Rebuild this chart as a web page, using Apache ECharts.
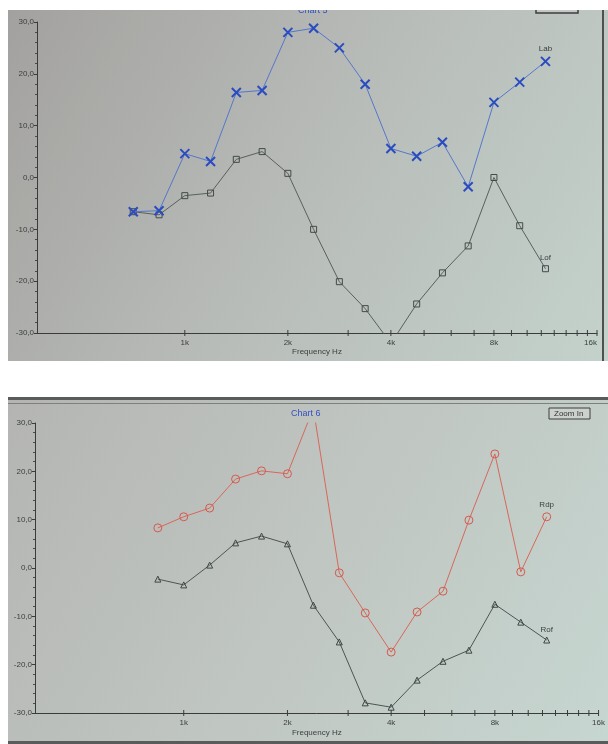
<!DOCTYPE html>
<html>
<head>
<meta charset="utf-8">
<script src="https://cdn.jsdelivr.net/npm/echarts/dist/echarts.min.js"></script>
<style>
html,body{margin:0;padding:0;background:#fff;}
#chart{width:608px;height:744px;}
</style>
</head>
<body>
<div id="chart"></div>
<script>
// ---- data ----
const freqTopHz = [707, 841, 1000, 1189, 1414, 1682, 2000, 2378, 2828, 3364, 4000, 4757, 5657, 6727, 8000, 9514, 11314];
const lab = [-6.6, -6.4, 4.6, 3.1, 16.4, 16.8, 28.0, 28.8, 25.0, 18.0, 5.6, 4.1, 6.8, -1.8, 14.5, 18.4, 22.4];
const lof = [-6.6, -7.2, -3.5, -3.0, 3.5, 5.0, 0.8, -10.0, -20.1, -25.3, -32.0, -24.4, -18.4, -13.2, 0.0, -9.3, -17.6];

const freqBottomHz = [841, 1000, 1189, 1414, 1682, 2000, 2378, 2828, 3364, 4000, 4757, 5657, 6727, 8000, 9514, 11314];
const rdp = [8.3, 10.6, 12.4, 18.4, 20.1, 19.5, 33.0, -1.0, -9.3, -17.4, -9.1, -4.8, 9.9, 23.6, -0.8, 10.6];
const rof = [-2.3, -3.5, 0.6, 5.2, 6.6, 5.0, -7.7, -15.3, -27.9, -28.8, -23.2, -19.3, -17.0, -7.5, -11.2, -14.9];

const xTickKHz = [1, 2, 3, 4, 5, 6, 7, 8, 9, 10, 11, 12, 13, 14, 15, 16];
const yMin = -30, yMax = 30, yStep = 10;
const xMinKHz = 0.37, xMaxKHz = 16;

// ---- helpers ----
const FONT = 'Liberation Sans, Arial, sans-serif';
function pts(freqs, vals, name) {
  return vals.map((v, i) => {
    const p = { value: [freqs[i] / 1000, v] };
    if (i === vals.length - 1) {
      p.label = { show: true, position: 'top', formatter: name, color: '#3a3f3e', fontSize: 8, fontFamily: FONT, distance: 3 };
    }
    return p;
  });
}
function xAxisFor(gi) {
  return {
    type: 'log', logBase: 2, gridIndex: gi, min: xMinKHz, max: xMaxKHz,
    name: 'Frequency Hz', nameLocation: 'middle', nameGap: gi === 0 ? 14 : 16,
    nameTextStyle: { color: '#3a3f3e', fontSize: 8, fontFamily: FONT },
    axisLine: { show: true, onZero: false, lineStyle: { color: '#3a3c3b', width: 1 } },
    axisTick: { show: false },
    splitLine: { show: false },
    axisLabel: {
      color: '#3a3f3e', fontSize: 8, fontFamily: FONT, margin: 6,
      showMinLabel: false,
      alignMaxLabel: gi === 0 ? 'right' : 'center',
      formatter: v => (v >= 0.99 ? Math.round(v) + 'k' : '')
    }
  };
}
function yAxisFor(gi) {
  return {
    type: 'value', gridIndex: gi, min: yMin, max: yMax, interval: yStep,
    axisLine: { show: true, onZero: false, lineStyle: { color: '#3a3c3b', width: 1 } },
    axisTick: { show: true, length: 3, lineStyle: { color: '#3a3c3b' } },
    minorTick: { show: true, splitNumber: 5, length: 2, lineStyle: { color: '#4a4c4b' } },
    splitLine: { show: false },
    axisLabel: {
      color: '#3a3f3e', fontSize: 8, fontFamily: FONT, margin: 3,
      formatter: v => v.toFixed(1).replace('.', ',')
    }
  };
}
function tickSeries(gi) {
  return {
    type: 'custom', xAxisIndex: gi, yAxisIndex: gi, silent: true, z: 5,
    data: xTickKHz.map(f => [f, yMin]),
    renderItem: function (params, api) {
      const p = api.coord([api.value(0), api.value(1)]);
      return { type: 'line', shape: { x1: p[0], y1: p[1] - 3, x2: p[0], y2: p[1] + 3 },
               style: { stroke: '#3a3c3b', lineWidth: 1 } };
    }
  };
}

const xPath = 'path://M0,0L10,10M10,0L0,10';

const option = {
  animation: false,
  textStyle: { fontFamily: FONT },
  graphic: [
    { type: 'rect', z: -10, shape: { x: 8, y: 10, width: 600, height: 351 },
      style: { fill: new echarts.graphic.LinearGradient(0, 0, 1, 1, [
        { offset: 0, color: '#a3a19f' }, { offset: 0.5, color: '#b8bcb8' }, { offset: 1, color: '#c4d2cc' }]) } },
    { type: 'rect', z: -10, shape: { x: 8, y: 397, width: 600, height: 347 },
      style: { fill: new echarts.graphic.LinearGradient(0, 0, 1, 1, [
        { offset: 0, color: '#b4b5b2' }, { offset: 0.5, color: '#c0c6c2' }, { offset: 1, color: '#c6d6d0' }]) } },
    { type: 'rect', z: -9, shape: { x: 8, y: 397, width: 600, height: 3 }, style: { fill: '#5a5c5b' } },
    { type: 'rect', z: -9, shape: { x: 8, y: 403, width: 600, height: 1 }, style: { fill: '#7d807e' } },
    { type: 'rect', z: -9, shape: { x: 8, y: 741, width: 600, height: 3 }, style: { fill: '#5a5c5b' } },
    { type: 'rect', z: -9, shape: { x: 602, y: 10, width: 2, height: 351 }, style: { fill: '#4e5150' } },
    // titles
    { type: 'text', z: 10, left: 298, top: 6, style: { text: 'Chart 5', fill: '#3550c0', fontSize: 9, fontFamily: FONT, textAlign: 'center' } },
    { type: 'text', z: 10, left: 291, top: 409, style: { text: 'Chart 6', fill: '#3550c0', fontSize: 9, fontFamily: FONT } },
    // buttons
    { type: 'rect', z: 10, shape: { x: 536, y: 3, width: 42, height: 10 }, style: { fill: '#c4c7c5', stroke: '#3c3e3d', lineWidth: 1.5 } },
    { type: 'rect', z: 10, shape: { x: 549, y: 408, width: 41, height: 11 }, style: { fill: '#cdd1ce', stroke: '#3c3e3d', lineWidth: 1 } },
    { type: 'text', z: 11, left: 554, top: 410, style: { text: 'Zoom In', fill: '#333', fontSize: 8, fontFamily: FONT } },
    // white cover above top photo
    { type: 'rect', z: 20, shape: { x: 0, y: 0, width: 608, height: 10 }, style: { fill: '#ffffff' } }
  ],
  grid: [
    { left: 37, right: 11, top: 22, height: 311 },
    { left: 35, right: 4, top: 423, height: 290 }
  ],
  xAxis: [xAxisFor(0), xAxisFor(1)],
  yAxis: [yAxisFor(0), yAxisFor(1)],
  series: [
    { name: 'Lof', type: 'line', xAxisIndex: 0, yAxisIndex: 0, data: pts(freqTopHz, lof, 'Lof'),
      symbol: 'rect', symbolSize: 6, z: 3,
      lineStyle: { color: '#58605e', width: 1 },
      itemStyle: { color: 'rgba(0,0,0,0)', borderColor: '#444b49', borderWidth: 1 } },
    { name: 'Lab', type: 'line', xAxisIndex: 0, yAxisIndex: 0, data: pts(freqTopHz, lab, 'Lab'),
      symbol: xPath, symbolSize: 9, z: 4,
      lineStyle: { color: '#5577cc', width: 1 },
      itemStyle: { color: 'rgba(0,0,0,0)', borderColor: '#2a4cc0', borderWidth: 2 } },
    tickSeries(0),
    { name: 'Rdp', type: 'line', xAxisIndex: 1, yAxisIndex: 1, data: pts(freqBottomHz, rdp, 'Rdp'),
      symbol: 'circle', symbolSize: 8, z: 4,
      lineStyle: { color: '#d8675a', width: 1 },
      itemStyle: { color: 'rgba(0,0,0,0)', borderColor: '#d45a4c', borderWidth: 1 } },
    { name: 'Rof', type: 'line', xAxisIndex: 1, yAxisIndex: 1, data: pts(freqBottomHz, rof, 'Rof'),
      symbol: 'triangle', symbolSize: 6, z: 3,
      lineStyle: { color: '#4c5553', width: 1 },
      itemStyle: { color: 'rgba(0,0,0,0)', borderColor: '#3f4745', borderWidth: 1 } },
    tickSeries(1)
  ]
};

const chart = echarts.init(document.getElementById('chart'), null, { renderer: 'canvas' });
chart.setOption(option);
</script>
</body>
</html>
